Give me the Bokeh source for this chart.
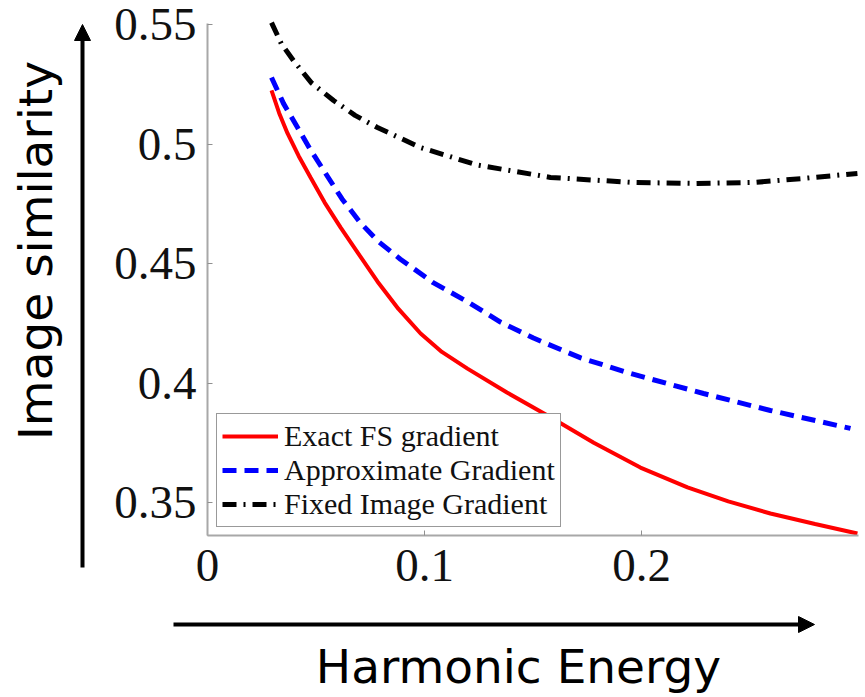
import math
from bokeh.plotting import figure
from bokeh.models import Arrow, NormalHead, Label, NumeralTickFormatter, FixedTicker, Range1d
from bokeh.embed import file_html
from bokeh.resources import INLINE

# ---- data ----
exact_x = [0.0295, 0.0330, 0.0369, 0.0420, 0.0475, 0.0540, 0.0613, 0.0700, 0.0783, 0.0880, 0.0982,
           0.1080, 0.1198, 0.1380, 0.1567, 0.1780, 0.1995, 0.2212, 0.2400, 0.2594, 0.2800, 0.2995]
exact_y = [0.5224, 0.5130, 0.5044, 0.4950, 0.4860, 0.4755, 0.4651, 0.4535, 0.4425, 0.4310, 0.4207,
           0.4130, 0.4060, 0.3960, 0.3864, 0.3750, 0.3646, 0.3563, 0.3505, 0.3454, 0.3410, 0.3370]

approx_x = [0.0295, 0.0350, 0.0415, 0.0475, 0.0535, 0.0620, 0.0705, 0.0790, 0.0889, 0.1040, 0.1198,
            0.1350, 0.1502, 0.1720, 0.1949, 0.2286, 0.2594, 0.2963]
approx_y = [0.5278, 0.5170, 0.5069, 0.4975, 0.4890, 0.4770, 0.4670, 0.4590, 0.4518, 0.4420, 0.4340,
            0.4255, 0.4188, 0.4105, 0.4040, 0.3956, 0.3885, 0.3810]

fixed_x = [0.0295, 0.0340, 0.0396, 0.0480, 0.0581, 0.0680, 0.0783, 0.0982, 0.1244, 0.1581, 0.1963,
           0.2240, 0.2516, 0.2747, 0.2995]
fixed_y = [0.5508, 0.5420, 0.5349, 0.5255, 0.5182, 0.5120, 0.5069, 0.4985, 0.4912, 0.4860, 0.4839,
           0.4835, 0.4839, 0.4856, 0.4877]

x_ticks = [0, 0.1, 0.2]
y_ticks = [0.35, 0.4, 0.45, 0.5, 0.55]
x_limits = (0.0, 0.3)
y_limits = (0.3362, 0.5504)

series_names = ["Exact FS gradient", "Approximate Gradient", "Fixed Image Gradient"]
x_title = "Harmonic Energy"
y_title = "Image similarity"

SERIF = "Liberation Serif"
SANS = "DejaVu Sans"

W, H = 865, 697
# the frame covers the whole canvas; the axes are drawn at fixed data locations
X0_PX, X_SCALE = 207.0, 2170.0      # px of x=0, px per unit
Y055_PX, Y_SCALE = 24.0, 2390.0     # px of y=0.55, px per unit
xr = Range1d(x_limits[0] - X0_PX / X_SCALE, x_limits[0] + (W - X0_PX) / X_SCALE)
yr = Range1d(0.55 - (H - Y055_PX) / Y_SCALE, 0.55 + Y055_PX / Y_SCALE)

p = figure(
    width=W, height=H, x_range=xr, y_range=yr,
    output_backend="svg", toolbar_location=None,
    min_border=0, min_border_left=0, min_border_right=0, min_border_top=0, min_border_bottom=0,
)
p.outline_line_color = None
p.xgrid.visible = False
p.ygrid.visible = False
p.background_fill_color = "white"
p.border_fill_color = "white"

for ax in (p.xaxis, p.yaxis):
    ax.axis_line_color = "#a8a8a8"
    ax.axis_line_width = 2
    ax.major_tick_line_color = "#909090"
    ax.major_tick_in = 5
    ax.major_tick_out = 0
    ax.minor_tick_line_color = None
    ax.major_label_text_font = SERIF
    ax.major_label_text_font_size = "47px"
    ax.major_label_text_color = "#111111"
    ax.formatter = NumeralTickFormatter(format="0.[00]")

p.xaxis.ticker = FixedTicker(ticks=x_ticks)
p.yaxis.ticker = FixedTicker(ticks=y_ticks)
p.xaxis.fixed_location = y_limits[0]
p.yaxis.fixed_location = x_limits[0]
p.xaxis.bounds = x_limits
p.yaxis.bounds = y_limits
p.xaxis.major_label_standoff = 15
p.yaxis.major_label_standoff = 11

p.line(exact_x, exact_y, line_color="#ff0000", line_width=4, legend_label=series_names[0])
p.line(approx_x, approx_y, line_color="#0000ff", line_width=5, line_dash="14 8", legend_label=series_names[1])
p.line(fixed_x, fixed_y, line_color="black", line_width=5, line_dash="14 7 2 7", legend_label=series_names[2])

lg = p.legend[0]
lg.location = (216, 170)
lg.label_text_font = SERIF
lg.label_text_font_size = "30px"
lg.label_text_color = "#111111"
lg.glyph_width = 56
lg.glyph_height = 30
lg.label_height = 30
lg.label_standoff = 6
lg.spacing = 0
lg.padding = 5
lg.margin = 0
lg.border_line_color = "#333333"
lg.border_line_width = 1.5
lg.background_fill_color = "white"
lg.background_fill_alpha = 1.0

# axis arrows and titles (canvas pixels, top-down)
head1 = NormalHead(size=16, fill_color="black", line_color="black", line_width=1)
head2 = NormalHead(size=16, fill_color="black", line_color="black", line_width=1)
p.add_layout(Arrow(end=head1, start_units="canvas", end_units="canvas",
                   x_start=82, y_start=567, x_end=82, y_end=24,
                   line_color="black", line_width=4))
p.add_layout(Arrow(end=head2, start_units="canvas", end_units="canvas",
                   x_start=173, y_start=624, x_end=814, y_end=624,
                   line_color="black", line_width=4))

p.add_layout(Label(x=518, y=666, x_units="canvas", y_units="canvas", text=x_title,
                   text_font=SANS, text_font_size="47px", text_align="center",
                   text_baseline="alphabetic", text_color="black"))
p.add_layout(Label(x=35, y=250, x_units="canvas", y_units="canvas", text=y_title,
                   text_font=SANS, text_font_size="47px", text_align="center",
                   text_baseline="alphabetic", angle=math.pi / 2, text_color="black"))

open("out.html", "w").write(file_html(p, INLINE))
